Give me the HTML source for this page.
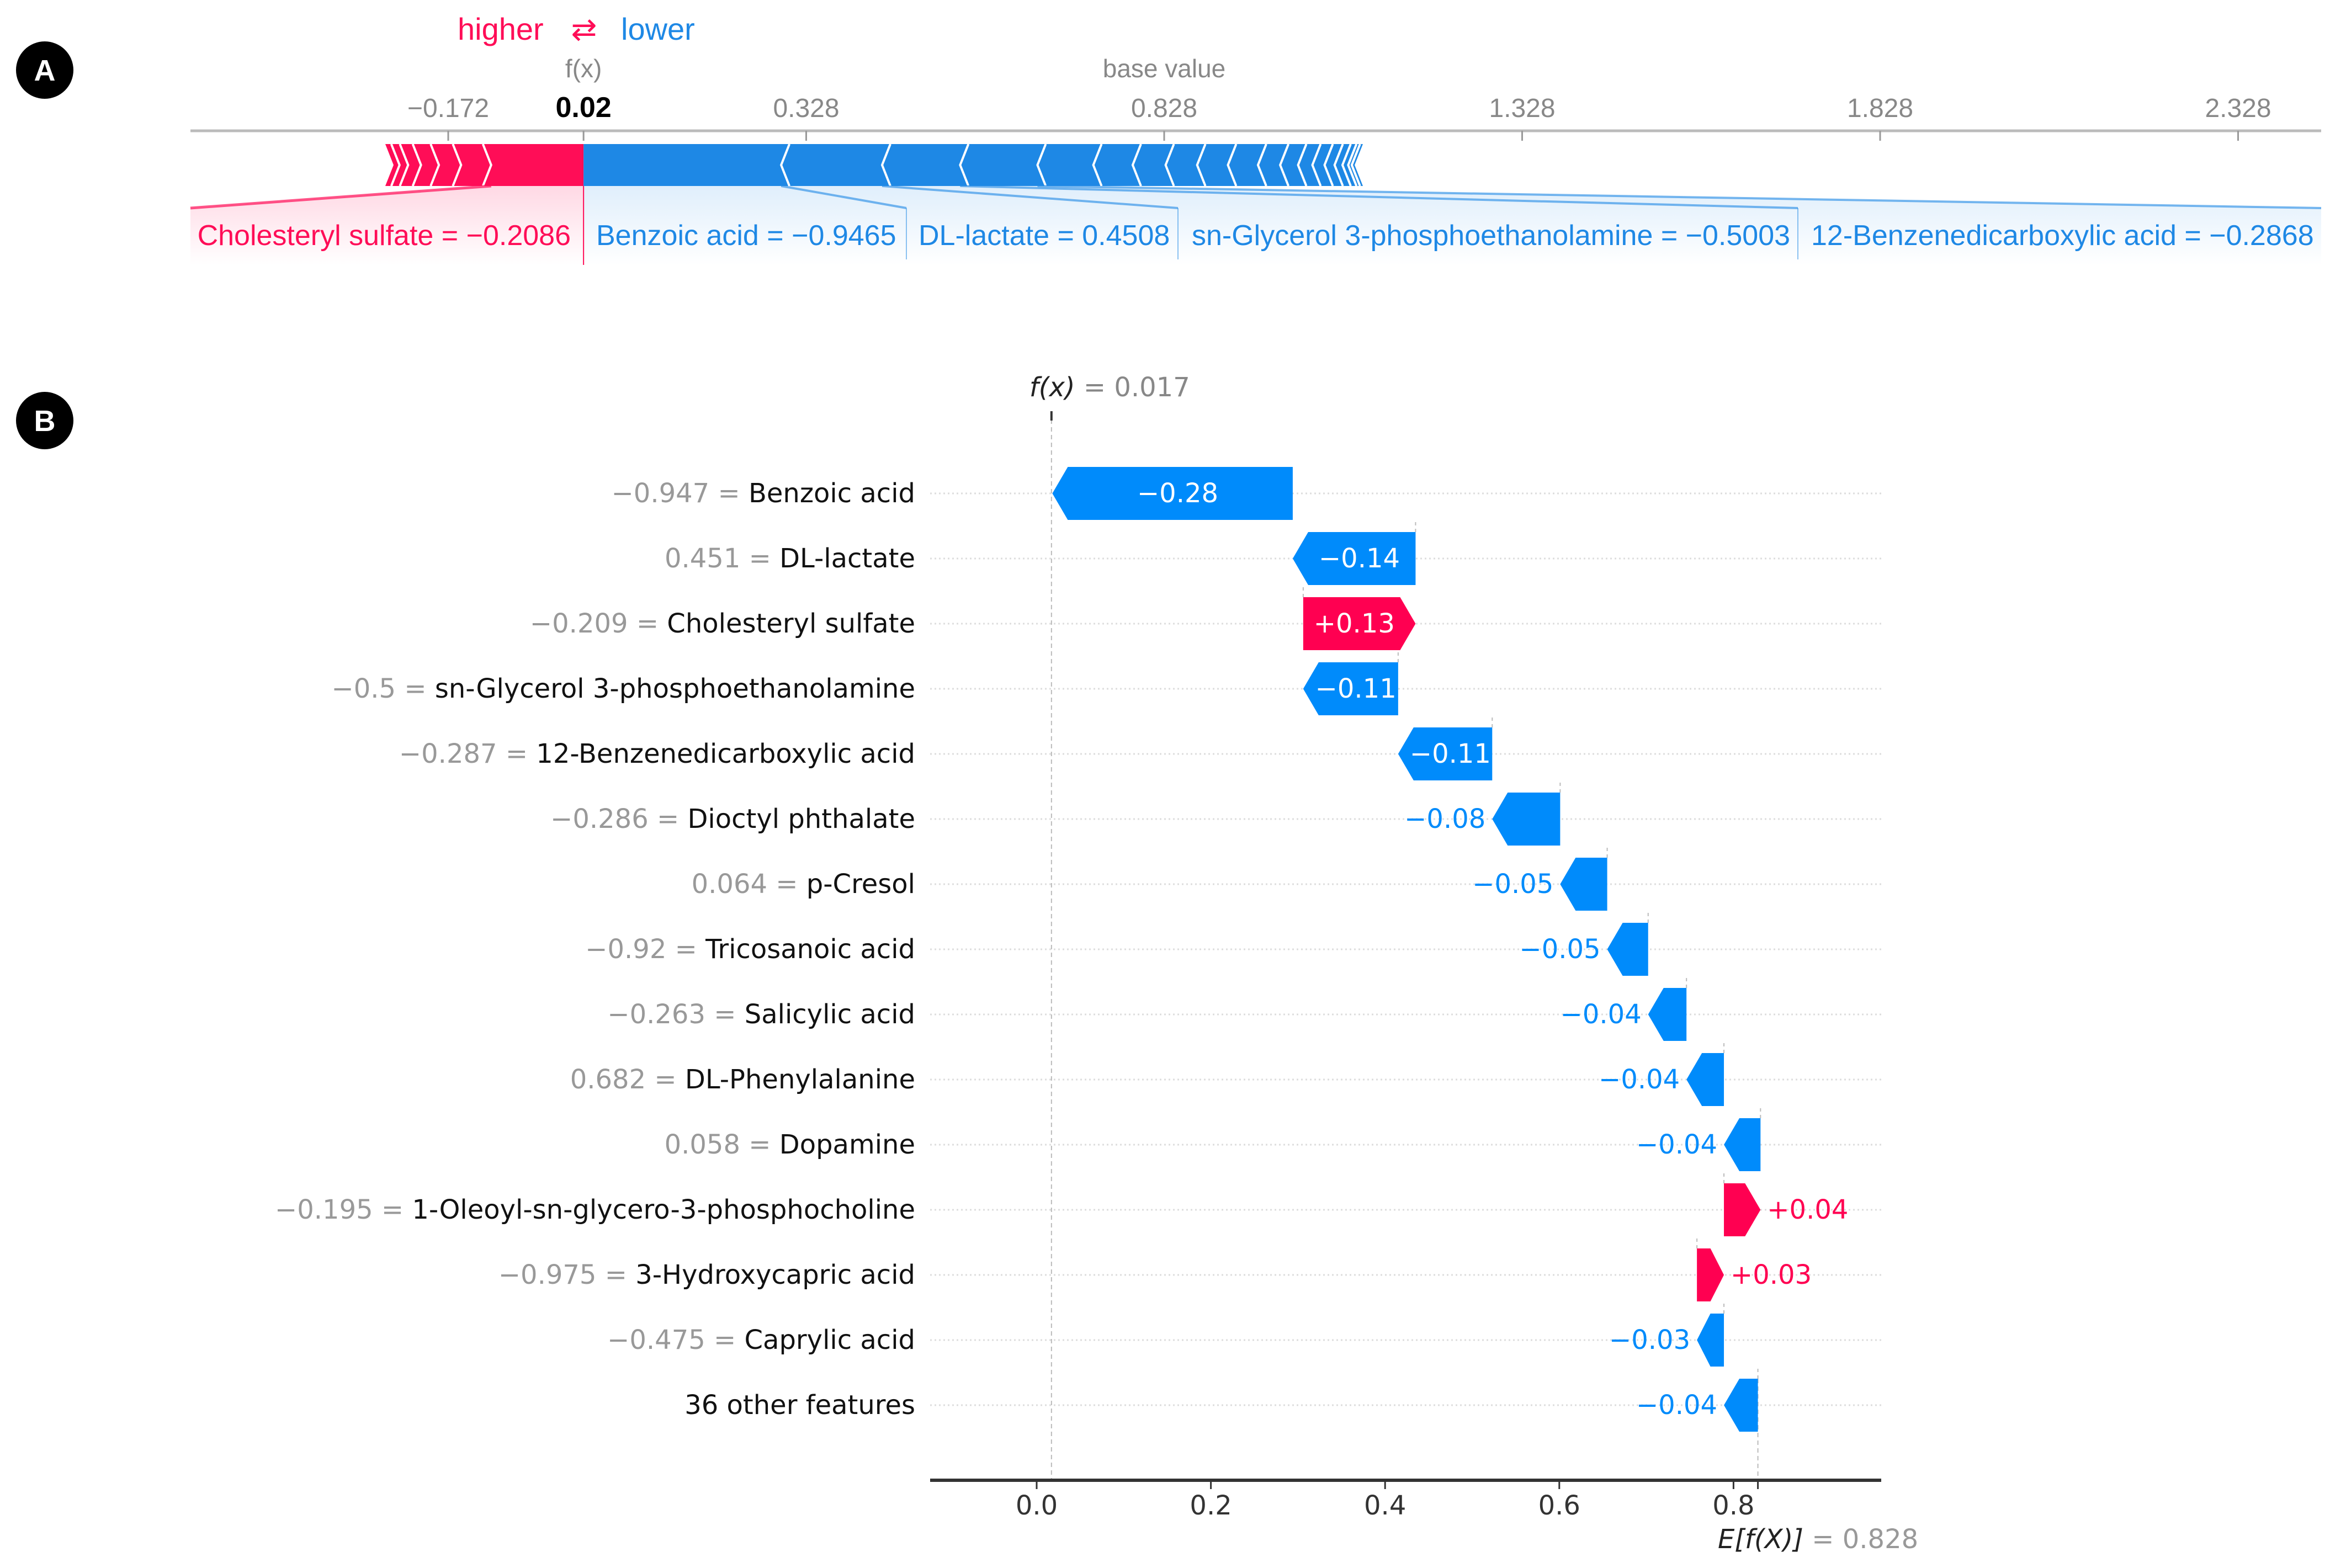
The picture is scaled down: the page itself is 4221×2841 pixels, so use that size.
<!DOCTYPE html>
<html><head><meta charset="utf-8"><style>
html,body{margin:0;padding:0;background:#fff;}
svg{display:block;}
</style></head><body>
<svg id="chart" width="4221" height="2841" viewBox="0 0 4221 2841" xmlns="http://www.w3.org/2000/svg">
<defs>
<linearGradient id="pinkFade" x1="0" y1="0" x2="0" y2="1"><stop offset="0" stop-color="#ff0d57" stop-opacity="0.16"/><stop offset="1" stop-color="#ff0d57" stop-opacity="0"/></linearGradient>
<linearGradient id="blueFade" x1="0" y1="0" x2="0" y2="1"><stop offset="0" stop-color="#1e88e5" stop-opacity="0.14"/><stop offset="1" stop-color="#1e88e5" stop-opacity="0"/></linearGradient>
</defs>
<g id="panelA"></g>
<g id="panelB"></g>
</svg>
<script>
// ---------- Force plot data ----------
const forceRedValues = [0.129, 0.042, 0.031, 0.025, 0.018, 0.012, 0.010];
const forceBlueValues = [0.276, 0.141, 0.109, 0.108, 0.078, 0.055, 0.046, 0.044, 0.043, 0.042, 0.031, 0.025, 0.020, 0.017, 0.014, 0.011, 0.008, 0.005, 0.004];
const forceTicks = [-0.172, 0.328, 0.828, 1.328, 1.828, 2.328];
const forceFx = 0.017;
const forceBase = 0.828;
const forceLabels = ["Cholesteryl sulfate = \u22120.2086","Benzoic acid = \u22120.9465","DL-lactate = 0.4508","sn-Glycerol 3-phosphoethanolamine = \u22120.5003","12-Benzenedicarboxylic acid = \u22120.2868"];

// ---------- Waterfall data ----------
const featureNames = ["Benzoic acid","DL-lactate","Cholesteryl sulfate","sn-Glycerol 3-phosphoethanolamine","12-Benzenedicarboxylic acid","Dioctyl phthalate","p-Cresol","Tricosanoic acid","Salicylic acid","DL-Phenylalanine","Dopamine","1-Oleoyl-sn-glycero-3-phosphocholine","3-Hydroxycapric acid","Caprylic acid","36 other features"];
const featureValues = ["\u22120.947","0.451","\u22120.209","\u22120.5","\u22120.287","\u22120.286","0.064","\u22120.92","\u22120.263","0.682","0.058","\u22120.195","\u22120.975","\u22120.475",""];
const shapValues = [-0.276,-0.141,0.129,-0.109,-0.108,-0.078,-0.054,-0.047,-0.044,-0.043,-0.042,0.042,0.031,-0.031,-0.039];
const wfTicks = [0.0,0.2,0.4,0.6,0.8];
const baseValue = 0.828;
const fxValue = 0.017;

const NS="http://www.w3.org/2000/svg";
function mk(tag, attrs, parent, text){const e=document.createElementNS(NS,tag);for(const k in attrs)e.setAttribute(k,attrs[k]);if(text!==undefined)e.textContent=text;parent.appendChild(e);return e;}
const A=document.getElementById('panelA');
const B=document.getElementById('panelB');
const SANS='"Liberation Sans", Arial, sans-serif';
const DJ='"DejaVu Sans", "Liberation Sans", sans-serif';
const RED='#ff0d57', BLUE='#1e88e5';

function badge(cy,letter,name){const g=mk('g',{},document.getElementById('chart'));
mk('circle',{cx:81,cy:cy,r:52,fill:'#000'},g);mk('text',{x:81,y:cy+19,'text-anchor':'middle','font-family':SANS,'font-weight':'bold','font-size':54,fill:'#fff'},g,letter);}
badge(127,'A','panel-a-badge');badge(762,'B','panel-b-badge');

// ---------- Panel A ----------
const fxA = v => 812 + (v + 0.172) * 1297;
const ftop=261, fbot=337, fmid=299, hh=15;
let t;
t=mk('text',{x:829,y:72,'font-family':SANS,'font-size':56,fill:RED},A,'higher');

t=mk('text',{x:1058,y:72,'text-anchor':'middle','font-family':SANS,'font-size':56,fill:RED},A,'\u21c4');

t=mk('text',{x:1125,y:72,'font-family':SANS,'font-size':56,fill:BLUE},A,'lower');

t=mk('text',{x:fxA(forceFx),y:140,'text-anchor':'middle','font-family':SANS,'font-size':46,fill:'#888'},A,'f(x)');

t=mk('text',{x:fxA(forceBase),y:140,'text-anchor':'middle','font-family':SANS,'font-size':46,fill:'#888'},A,'base value');

t=mk('line',{x1:345,x2:4205,y1:237,y2:237,stroke:'#bbb','stroke-width':5},A);

forceTicks.forEach(v=>{const x=fxA(v);
 let u=mk('line',{x1:x,x2:x,y1:237,y2:255,stroke:'#999','stroke-width':3},A);
 
 
 u=mk('text',{x:x,y:212,'text-anchor':'middle','font-family':SANS,'font-size':48,fill:'#888'},A,v<0?'\u2212'+Math.abs(v).toFixed(3):v.toFixed(3));
 
 });
mk('line',{x1:fxA(forceFx),x2:fxA(forceFx),y1:237,y2:255,stroke:'#999','stroke-width':3},A);
t=mk('text',{x:fxA(forceFx),y:212,'text-anchor':'middle','font-family':SANS,'font-size':52,'font-weight':'bold',fill:'#000'},A,forceFx.toFixed(2));


let redBounds=[forceFx];let cur=forceFx;forceRedValues.forEach(v=>{cur-=v;redBounds.push(cur);});
let blueBounds=[forceFx];cur=forceFx;forceBlueValues.forEach(v=>{cur+=v;blueBounds.push(cur);});
const redL=fxA(redBounds[redBounds.length-1]), X0=fxA(forceFx), blueR=fxA(blueBounds[blueBounds.length-1]);

t=mk('polygon',{points:`${X0},${fbot} ${fxA(redBounds[1])},${fbot} 345,377 345,480 ${X0},480`,fill:'url(#pinkFade)'},A);

t=mk('polygon',{points:`${X0},${fbot} ${fxA(blueBounds[4])},${fbot} 4205,377 4205,480 ${X0},480`,fill:'url(#blueFade)'},A);


t=mk('polygon',{points:`${redL-hh},${ftop} ${X0},${ftop} ${X0},${fbot} ${redL-hh},${fbot} ${redL},${fmid}`,fill:RED},A);

t=mk('polygon',{points:`${X0},${ftop} ${blueR+hh},${ftop} ${blueR},${fmid} ${blueR+hh},${fbot} ${X0},${fbot}`,fill:BLUE},A);

redBounds.slice(1).forEach(v=>{const b=fxA(v);
 const u=mk('polyline',{points:`${b-hh},${ftop} ${b},${fmid} ${b-hh},${fbot}`,fill:'none',stroke:'#fff','stroke-width':4},A);
 
 });
blueBounds.slice(1,-1).forEach(v=>{const b=fxA(v);
 const u=mk('polyline',{points:`${b+hh},${ftop} ${b},${fmid} ${b+hh},${fbot}`,fill:'none',stroke:'#fff','stroke-width':4},A);
 
 });

mk('line',{x1:X0,x2:X0,y1:fbot,y2:480,stroke:RED,'stroke-width':2},A);
mk('line',{x1:fxA(redBounds[1]),y1:fbot,x2:345,y2:377,stroke:RED,'stroke-width':5,opacity:0.7},A);
[[blueBounds[1],1642],[blueBounds[2],2134],[blueBounds[3],3257],[blueBounds[4],4205]].forEach(([v,d])=>{
 const u=mk('line',{x1:fxA(v),y1:fbot,x2:d,y2:377,stroke:BLUE,'stroke-width':4,opacity:0.6},A);
 
 
 if(d<4205){mk('line',{x1:d,x2:d,y1:377,y2:470,stroke:BLUE,'stroke-width':2,opacity:0.5},A);}});
const lx=[[1034,'end',RED],[1080,'start',BLUE],[1664,'start',BLUE],[2159,'start',BLUE],[3281,'start',BLUE]];
forceLabels.forEach((s,i)=>{const u=mk('text',{x:lx[i][0],y:444,'text-anchor':lx[i][1],'font-family':SANS,'font-size':52,fill:lx[i][2]},A,s);
 
 });

// ---------- Panel B ----------
const wx = v => 1878 + v*1578;
const rowY = i => 894 + i*118;
const bh = 96;
const axisY = 2682;
const WRED='#ff0051', WBLUE='#008bfb';
featureNames.forEach((n,i)=>{const u=mk('line',{x1:1685,x2:3408,y1:rowY(i),y2:rowY(i),stroke:'#ddd','stroke-width':3,'stroke-dasharray':'3,5'},B);
 
 });
t=mk('line',{x1:wx(fxValue),x2:wx(fxValue),y1:760,y2:axisY,stroke:'#bbb','stroke-width':2,'stroke-dasharray':'8,6'},B);

mk('line',{x1:wx(fxValue),x2:wx(fxValue),y1:745,y2:762,stroke:'#333','stroke-width':4},B);
t=mk('text',{x:wx(fxValue)-40,y:718,'font-family':DJ,'font-size':48,fill:'#888'},B);

mk('tspan',{fill:'#222','font-style':'italic'},t,'f(x)');mk('tspan',{},t,' = '+fxValue.toFixed(3));
const lastY=rowY(featureNames.length-1);
t=mk('line',{x1:wx(baseValue),x2:wx(baseValue),y1:lastY-bh/2,y2:axisY,stroke:'#bbb','stroke-width':2,'stroke-dasharray':'8,6'},B);


let startV=baseValue;
const ends=new Array(featureNames.length);const starts=new Array(featureNames.length);
for(let i=featureNames.length-1;i>=0;i--){starts[i]=startV;startV+=shapValues[i];ends[i]=startV;}
for(let i=0;i<featureNames.length;i++){
 const v=shapValues[i], s=wx(starts[i]), e=wx(ends[i]), y=rowY(i), tp=y-bh/2, bt=y+bh/2;
 const w=Math.abs(e-s), hd=Math.min(28,w*0.5);
 let pts;
 if(v<0) pts=`${e+hd},${tp} ${s},${tp} ${s},${bt} ${e+hd},${bt} ${e},${y}`;
 else pts=`${s},${tp} ${e-hd},${tp} ${e},${y} ${e-hd},${bt} ${s},${bt}`;
 const bar=mk('polygon',{points:pts,fill:v<0?WBLUE:WRED},B);
 
 
 if(i>0){const c=mk('line',{x1:s,x2:s,y1:tp,y2:rowY(i-1)+bh/2,stroke:'#bbb','stroke-width':2,'stroke-dasharray':'6,6'},B);
  
  }
 const lbl=(v<0?'\u2212':'+')+Math.abs(v).toFixed(2);
 let tx,anc,col;
 if(w>150){tx=(s+e)/2+(v<0?hd/3:-hd/3);anc='middle';col='#fff';}
 else if(v<0){tx=e-12;anc='end';col=WBLUE;}else{tx=e+12;anc='start';col=WRED;}
 const vl=mk('text',{x:tx,y:y+16,'text-anchor':anc,'font-family':DJ,'font-size':48,fill:col},B,lbl);
 
 
 const fl=mk('text',{x:1658,y:y+16,'text-anchor':'end','font-family':DJ,'font-size':48,fill:'#111'},B);
 
 
 if(featureValues[i]) mk('tspan',{fill:'#999'},fl,featureValues[i]+' = ');
 mk('tspan',{},fl,featureNames[i]);
}
t=mk('line',{x1:1685,x2:3408,y1:axisY,y2:axisY,stroke:'#333','stroke-width':6},B);

wfTicks.forEach(v=>{const x=wx(v);
 mk('line',{x1:x,x2:x,y1:axisY,y2:axisY+16,stroke:'#333','stroke-width':3},B);
 const u=mk('text',{x:x,y:axisY+62,'text-anchor':'middle','font-family':DJ,'font-size':48,fill:'#333'},B,v.toFixed(1));
 
 });
mk('line',{x1:wx(baseValue),x2:wx(baseValue),y1:axisY,y2:axisY+16,stroke:'#333','stroke-width':3},B);
t=mk('text',{x:3112,y:2805,'font-family':DJ,'font-size':48,fill:'#999'},B);

mk('tspan',{fill:'#222','font-style':'italic'},t,'E[f(X)]');mk('tspan',{},t,' = '+baseValue.toFixed(3));
</script>
</body></html>
